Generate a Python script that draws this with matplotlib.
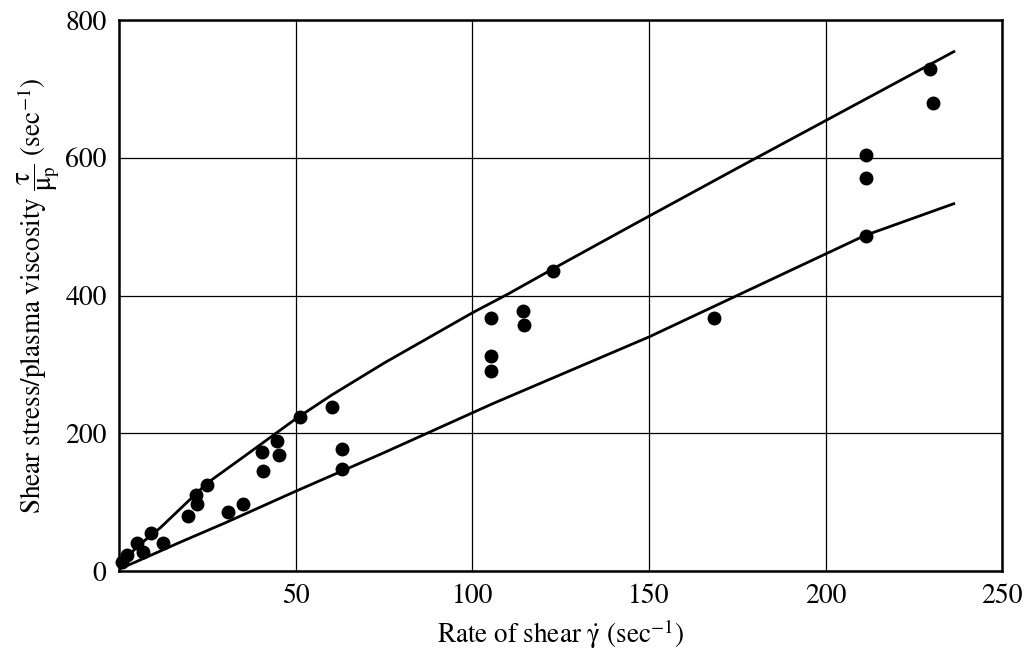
import matplotlib
matplotlib.use("Agg")
import matplotlib.pyplot as plt

plt.rcParams['font.family'] = ['STIXGeneral', 'DejaVu Serif']
plt.rcParams['mathtext.fontset'] = 'stix'

# Measured data points: rate of shear (1/s) vs shear stress / plasma viscosity (1/s)
shear_rate = [0.9, 2.3, 5.1, 6.8, 9.1, 12.5, 19.4, 21.8, 22.1, 24.8, 30.8, 35.0,
              40.6, 40.7, 44.8, 45.2, 51.1, 60.2, 63.0, 63.0,
              105.3, 105.3, 105.3, 114.3, 114.7, 122.8, 168.5,
              211.3, 211.5, 211.3, 229.6, 230.3]
stress_ratio = [14, 23, 41, 28, 55, 41, 80, 111, 98, 125, 86, 98,
                173, 146, 189, 168, 224, 238, 178, 149,
                368, 313, 290, 377, 357, 436, 368,
                604, 571, 487, 729, 680]

# Upper and lower bounding curves
upper_x = [0, 2, 5, 11.7, 25, 35, 50, 60, 75, 100, 110, 125, 145.6, 175, 200, 236.6]
upper_y = [5, 18, 35, 63, 128, 165, 221, 255, 302, 375, 402, 445, 503, 585, 654, 755]
lower_x = [0, 5, 17.3, 30, 50, 75, 105.7, 150, 211, 236.6]
lower_y = [3, 14, 42, 70, 116, 172, 243, 340, 487, 534]

x_ticks = [50, 100, 150, 200, 250]
y_ticks = [0, 200, 400, 600, 800]

fig = plt.figure(figsize=(10.26, 6.55), dpi=100)
ax = fig.add_axes([0.116, 0.128, 0.861, 0.8415])

ax.plot(upper_x, upper_y, color='black', lw=2.0, solid_capstyle='butt')
ax.plot(lower_x, lower_y, color='black', lw=2.0, solid_capstyle='butt')
ax.plot(shear_rate, stress_ratio, 'o', color='black', markersize=9, clip_on=False, zorder=5)

ax.set_xlim(0, 250)
ax.set_ylim(0, 800)
ax.set_xticks(x_ticks)
ax.set_yticks(y_ticks)
ax.grid(True, color='black', lw=0.9)
ax.tick_params(length=0, labelsize=20, pad=9)
for s in ax.spines.values():
    s.set_linewidth(1.8)

ax.set_xlabel(r'Rate of shear $\mathrm{\dot{\gamma}}$ (sec$^{-1}$)', fontsize=19.5, labelpad=6)
ax.set_ylabel(r'Shear stress/plasma viscosity $\dfrac{\mathrm{\tau}}{\mathrm{\mu_p}}$ (sec$^{-1}$)',
              fontsize=19.5, labelpad=2)

fig.savefig('out.png', dpi=100)
